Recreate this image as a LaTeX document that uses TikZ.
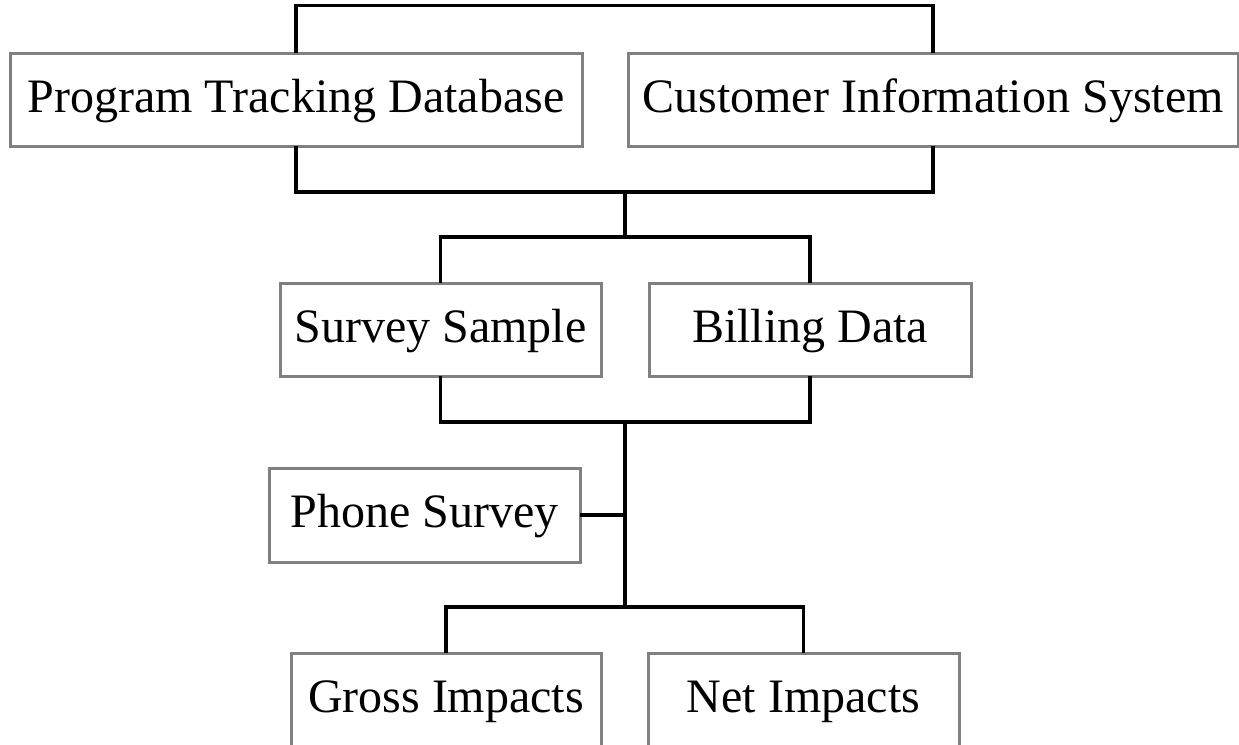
\documentclass[tikz,border=0pt]{standalone}
\usepackage{fontspec}
\setmainfont{Liberation Serif}
\begin{document}
\begin{tikzpicture}[x=1pt,y=-1pt,
  box/.style={draw=black!50, line width=3pt, fill=white, inner sep=0pt,
    font=\fontsize{48}{50}\selectfont, text height=35pt, text depth=10pt, align=center},
  conn/.style={draw=black, line width=3.2pt, line cap=rect}]
\useasboundingbox (0,0) rectangle (1239,744);
\clip (0,0) rectangle (1239,744);
% nodes
\node[box, minimum width=572pt, minimum height=93pt] (ptd) at (296,99.5) {Program Tracking Database};
\node[box, minimum width=610pt, minimum height=93pt] (cis) at (933,99.5) {Customer Information System};
\node[box, minimum width=321pt, minimum height=93pt] (ss) at (440.5,329.5) {Survey Sample};
\node[box, minimum width=322pt, minimum height=93pt] (bd) at (810,329.5) {Billing Data};
\node[box, minimum width=311pt, minimum height=94pt] (ps) at (424.5,515) {Phone Survey};
\node[box, minimum width=310pt, minimum height=94pt] (gi) at (446,700) {Gross Impacts};
\node[box, minimum width=311pt, minimum height=94pt] (ni) at (803.5,700) {Net Impacts};
% junction coordinates
\coordinate (j1) at (625,192);
\coordinate (j2) at (625,237);
\coordinate (j3) at (625,422);
\coordinate (j4) at (625,515);
\coordinate (j5) at (625,607);
% connectors
\draw[conn] (ptd.north) -- ++(0,-46) -| (cis.north);
\draw[conn] (ptd.south) |- (j1) -| (cis.south);
\draw[conn] (j1) -- (j2);
\draw[conn] (ss.north) |- (j2) -| (bd.north);
\draw[conn] (ss.south) |- (j3) -| (bd.south);
\draw[conn] (j3) -- (j5);
\draw[conn] (ps.east) -- (j4);
\draw[conn] (gi.north) |- (j5) -| (ni.north);
\end{tikzpicture}
\end{document}
